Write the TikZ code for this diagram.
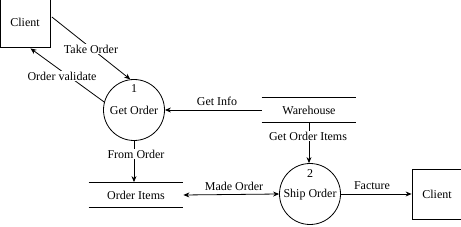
\documentclass[tikz,border=0pt]{standalone}
\usepackage{fontspec}
\setmainfont{Liberation Serif}
\usetikzlibrary{arrows.meta,calc}
\begin{document}
\begin{tikzpicture}[x=1pt,y=-1pt,
  font=\fontsize{12}{14}\selectfont,
  line width=0.8pt,
  ent/.style={draw,rectangle,inner sep=0pt},
  proc/.style={draw,circle,minimum size=61pt,inner sep=0pt},
  store/.style={rectangle,inner sep=0pt,minimum height=25pt},
  flow/.style={-{Stealth[length=6pt,width=5pt]}},
  lbl/.style={fill=white,inner sep=1pt}]
\useasboundingbox (0,0) rectangle (461,227);
\begin{scope}
\clip (0,0) rectangle (461,227);
% external entities
\node[ent,minimum width=50pt,minimum height=54pt] (c1) at (25.5,20) {};
\node at (25,22) {Client};
\node[ent,minimum width=60pt,minimum height=50pt] (c2) at (442,194) {};
\node at (437,194) {Client};
% processes
\node[proc] (g1) at (134,110) {};
\node at (134,89) {1};
\node at (134,110) {Get Order};
\node[proc] (g2) at (310,194) {};
\node at (310,174) {2};
\node at (310,195) {Ship Order};
% data stores
\node[store,minimum width=94pt] (wh) at (309,110) {Warehouse};
\draw (wh.north west) -- (wh.north east) (wh.south west) -- (wh.south east);
\node[store,minimum width=94pt] (oi) at (136,195) {Order Items};
\draw (oi.north west) -- (oi.north east) (oi.south west) -- (oi.south east);
% flows
\coordinate (tS) at ($(c1.east)+(1,-3)$);
\draw[flow] (tS) -- (g1.97);
\node[lbl] at (91,49) {Take Order};
\coordinate (vE) at ($(c1.south)+(5,1)$);
\draw[flow] (g1.165) -- (vE);
\node[lbl] at (62,76) {Order validate};
\draw[flow] (wh.west) -- (g1.east);
\node at (217,101) {Get Info};
\draw[flow] (wh.south) -- (wh.south |- g2.north);
\node[lbl] at (308,136) {Get Order Items};
\draw[flow] (g1.south) -- (g1.south |- oi.north);
\node[lbl] at (136,154) {From Order};
\draw[{Stealth[length=6pt,width=5pt]}-{Stealth[length=6pt,width=5pt]}] (oi.east) -- (g2.west);
\node at (234,186) {Made Order};
\draw[flow] (g2.east) -- (c2.west);
\node at (372,186) {Facture};
\end{scope}
\end{tikzpicture}
\end{document}
